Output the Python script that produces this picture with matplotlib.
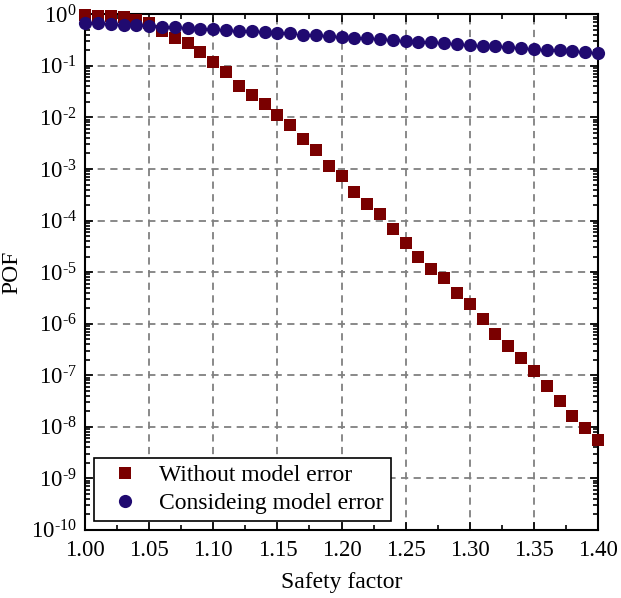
import matplotlib
matplotlib.use('Agg')
import matplotlib.pyplot as plt
import numpy as np
from matplotlib.ticker import MultipleLocator, LogLocator, NullFormatter, FuncFormatter

plt.rcParams['font.family'] = ['Liberation Serif', 'DejaVu Serif']
plt.rcParams['mathtext.fontset'] = 'custom'
plt.rcParams['mathtext.rm'] = 'Liberation Serif'
plt.rcParams['mathtext.it'] = 'Liberation Serif:italic'

# Safety factor 1.00 .. 1.40
sf = np.round(np.arange(1.00, 1.401, 0.01), 2)

# POF without model error
pof_no_err = [0.97, 0.95, 0.91, 0.88, 0.78, 0.68, 0.48, 0.355, 0.275, 0.184,
              0.118, 0.075, 0.040, 0.0274, 0.018, 0.011, 0.0071, 0.0039, 0.0023, 0.00113,
              7.2e-4, 3.6e-4, 2.06e-4, 1.32e-4, 6.9e-5, 3.6e-5, 1.96e-5, 1.15e-5, 7.6e-6, 3.9e-6,
              2.4e-6, 1.22e-6, 6.4e-7, 3.7e-7, 2.18e-7, 1.23e-7, 6.3e-8, 3.2e-8, 1.62e-8, 9.3e-9,
              5.6e-9]

# POF considering model error
pof_model_err = [0.69, 0.67, 0.655, 0.63, 0.615, 0.60, 0.58, 0.565, 0.54, 0.53,
                 0.515, 0.50, 0.485, 0.47, 0.457, 0.444, 0.43, 0.405, 0.39, 0.377,
                 0.365, 0.35, 0.345, 0.33, 0.32, 0.31, 0.296, 0.288, 0.28, 0.268,
                 0.26, 0.248, 0.24, 0.231, 0.224, 0.214, 0.207, 0.20, 0.195, 0.187,
                 0.18]


def log_label(v, pos):
    n = int(round(np.log10(v)))
    exp = f'-{abs(n)}' if n < 0 else f'{n}'
    return r'10$^{\text{' + exp + '}}$'


fig = plt.figure(figsize=(6.21, 5.98), dpi=100)
ax = fig.add_axes([0.137, 0.114, 0.826, 0.862])

ax.plot(sf, pof_no_err, 's', color='#7a0000', markersize=8.5, markeredgewidth=0,
        label='Without model error', clip_on=False, zorder=3)
ax.plot(sf, pof_model_err, 'o', color='#200a70', markersize=9.5, markeredgewidth=0,
        label='Consideing model error', clip_on=False, zorder=4)

ax.set_yscale('log')
ax.set_xlim(1.00, 1.40)
ax.set_ylim(1e-10, 1e0)
ax.xaxis.set_major_locator(MultipleLocator(0.05))
ax.xaxis.set_minor_locator(MultipleLocator(0.025))
ax.yaxis.set_major_locator(LogLocator(base=10, numticks=20))
ax.yaxis.set_minor_locator(LogLocator(base=10, subs=np.arange(2, 10), numticks=20))
ax.yaxis.set_minor_formatter(NullFormatter())
ax.yaxis.set_major_formatter(FuncFormatter(log_label))
ax.xaxis.set_major_formatter(matplotlib.ticker.FormatStrFormatter('%.2f'))

ax.tick_params(which='both', direction='in', top=True, right=True, labelsize=16.5, width=1.2)
ax.tick_params(which='major', length=6)
ax.tick_params(which='minor', length=3.5)
ax.tick_params(axis='x', pad=7)
ax.tick_params(axis='y', pad=6)
for s in ax.spines.values():
    s.set_linewidth(1.5)

ax.grid(True, which='major', linestyle=(0, (4, 3)), color='#808080', linewidth=1.3)

ax.set_xlabel('Safety factor', fontsize=17, labelpad=8)
ax.set_ylabel('POF', fontsize=17)
ax.yaxis.set_label_coords(-0.123, 0.5)

leg = ax.legend(loc='lower left', fontsize=17, fancybox=False, edgecolor='black',
                framealpha=1, borderaxespad=0.38, handletextpad=0.45, borderpad=0.3,
                labelspacing=0.25, handlelength=2.0)
leg.get_frame().set_linewidth(1.2)

fig.savefig('out.png', dpi=100)
